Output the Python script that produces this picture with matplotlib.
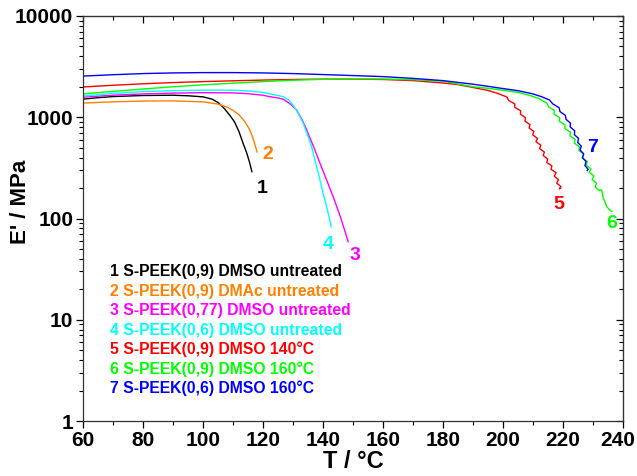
"""Storage modulus E' vs temperature for S-PEEK films (DMA)."""
import matplotlib
matplotlib.use("Agg")
import matplotlib.pyplot as plt
from matplotlib.ticker import FixedLocator, LogLocator, NullFormatter, MultipleLocator
from matplotlib.transforms import ScaledTranslation

plt.rcParams["font.family"] = ["Liberation Sans", "DejaVu Sans"]
plt.rcParams["font.weight"] = "bold"

# --- data (T in degC, E' in MPa) ---
T1 = [60, 65, 70, 80, 90, 95, 100, 103, 105, 107, 109, 110.5, 112, 113.3, 114.5, 115.5, 116.3]
E1 = [1510, 1560, 1600, 1640, 1650, 1630, 1590, 1510, 1400, 1230, 1040, 900, 720, 560, 450, 360, 290]

T2 = [60, 70, 80, 90, 100, 105, 108, 110, 112, 114, 115.5, 116.5, 117.3, 118]
E2 = [1380, 1420, 1445, 1450, 1420, 1350, 1260, 1170, 1060, 900, 760, 640, 540, 454]

T3 = [60, 70, 80, 90, 100, 110, 115, 120, 122.3, 125, 126.8, 129, 131.2, 133, 134.6,
      137, 139, 141.2, 143.4, 146, 148.4]
E3 = [1580, 1650, 1700, 1730, 1750, 1740, 1710, 1650, 1595, 1550, 1503, 1360, 1180, 950, 748,
      500, 351, 240, 164, 100, 59]

T4 = [60, 70, 80, 90, 100, 110, 115, 120, 122.3, 125, 126.8, 128.5, 130, 131.7, 133.4,
      135, 136.2, 137.6, 139, 140.2, 141.2, 142, 142.7]
E4 = [1620, 1720, 1790, 1830, 1850, 1850, 1820, 1760, 1700, 1640, 1595, 1480, 1321, 1100, 872,
      650, 512, 350, 240, 170, 131, 105, 83]

T5 = [60, 70, 80, 90, 100, 110, 120, 130, 140, 150, 160, 170, 180, 185, 190, 195, 198,
      201.3, 201.9, 203.9, 203.9, 205.9, 205.8, 207.5, 207.3, 209.0, 208.7, 210.3, 209.9,
      211.5, 211.0, 212.6, 212.2, 213.8, 213.4, 214.9, 214.6, 216.3, 216.0, 217.7, 217.1,
      218.5, 217.9, 219.3, 218.8, 219.2]
E5 = [1990, 2070, 2140, 2200, 2250, 2290, 2330, 2360, 2380, 2380, 2360, 2300, 2180, 2100, 1970, 1840, 1730,
      1585, 1466, 1355, 1253, 1159, 1072, 991, 916, 847, 783, 724, 670,
      619, 573, 530, 490, 453, 419, 387, 358, 331, 306, 283, 262,
      242, 224, 207, 196, 200]

T6 = [60, 70, 80, 90, 100, 110, 120, 130, 140, 150, 160, 170, 180, 190, 195, 200, 205, 209, 212,
      214.6, 215.2, 217.1, 217.0, 218.9, 218.8, 220.7, 220.6, 222.5, 222.3, 224.1, 223.8,
      225.5, 225.3, 226.9, 226.4, 228.1, 227.7, 229.3, 228.8, 230.3, 229.7, 231.2, 230.7,
      232.1, 232.9, 233.4, 234.6, 235.5, 236.3]
E6 = [1700, 1800, 1900, 2000, 2090, 2170, 2250, 2320, 2370, 2390, 2390, 2350, 2270, 2000, 1930, 1850, 1760, 1640, 1530,
      1380, 1271, 1169, 1076, 991, 912, 839, 773, 711, 655, 603, 555,
      511, 470, 433, 398, 366, 337, 310, 286, 263, 242, 223, 205,
      189, 192, 160, 131, 122, 117]

T7 = [60, 70, 80, 90, 100, 110, 120, 130, 140, 150, 160, 170, 180, 190, 195, 200, 205, 210, 213,
      215.5, 216.6, 218.7, 219.0, 220.8, 221.0, 222.5, 222.4, 223.9, 223.8, 225.2, 224.9,
      226.1, 225.7, 226.9, 226.5, 227.7, 227.3, 228.4, 228.1]
E7 = [2550, 2630, 2700, 2740, 2760, 2760, 2740, 2700, 2640, 2580, 2520, 2420, 2300, 2120, 2020, 1920, 1830, 1700, 1590,
      1479, 1355, 1242, 1138, 1042, 955, 875, 802, 735, 673, 617, 565,
      518, 474, 435, 398, 365, 334, 306, 298]

SERIES = [(T1, E1), (T2, E2), (T3, E3), (T4, E4), (T5, E5), (T6, E6), (T7, E7)]
LEGEND = [
    "1 S-PEEK(0,9) DMSO untreated",
    "2 S-PEEK(0,9) DMAc untreated",
    "3 S-PEEK(0,77) DMSO untreated",
    "4 S-PEEK(0,6) DMSO untreated",
    "5 S-PEEK(0,9) DMSO 140\u00b0C",
    "6 S-PEEK(0,9) DMSO 160\u00b0C",
    "7 S-PEEK(0,6) DMSO 160\u00b0C",
]
# curve number tags placed near curve ends
TAG_T = [119.7, 121.7, 150.7, 141.7, 218.7, 236.3, 230.0]
TAG_E = [200, 433, 43.6, 56, 136, 90, 508]

COLORS = ["#000000", "#ff8000", "#ff00ff", "#00ffff", "#ff0000", "#00ff00", "#0000ff"]
XTICKS = [60, 80, 100, 120, 140, 160, 180, 200, 220, 240]
YTICKS = [1, 10, 100, 1000, 10000]


def main():
    fig = plt.figure(figsize=(6.37, 4.76), dpi=100)
    ax = fig.add_axes([0.1303, 0.1155, 0.8477, 0.8509])

    for i, (t, e) in enumerate(SERIES):
        ax.plot(t, e, color=COLORS[i], linewidth=1.0)
        ax.text(TAG_T[i], TAG_E[i], str(i + 1), color=COLORS[i], fontsize=14,
                fontweight="bold", ha="center", va="center")

    for i, label in enumerate(LEGEND):
        ax.text(0.05, 0.368 - i * 0.0478, label, transform=ax.transAxes,
                color=COLORS[i], fontsize=11.3, fontweight="bold", va="center", ha="left")

    ax.set_yscale("log")
    ax.set_xlim(60, 240)
    ax.set_ylim(1, 10000)

    ax.xaxis.set_major_locator(FixedLocator(XTICKS))
    ax.xaxis.set_minor_locator(MultipleLocator(10))
    ax.set_xticklabels([str(v) for v in XTICKS])
    ax.yaxis.set_major_locator(FixedLocator(YTICKS))
    ax.yaxis.set_minor_locator(LogLocator(base=10, subs=range(2, 10)))
    ax.yaxis.set_minor_formatter(NullFormatter())
    ax.set_yticklabels([str(v) for v in YTICKS])

    ax.tick_params(axis="both", which="major", labelsize=15, length=5, width=0.9, pad=2)
    ax.tick_params(axis="both", which="minor", length=3, width=0.8)
    ax.tick_params(axis="both", which="both", direction="out")
    for lab in ax.get_xticklabels() + ax.get_yticklabels():
        lab.set_fontweight("bold")
    # nudge the last x label so it stays inside the canvas
    last = ax.get_xticklabels()[-1]
    last.set_transform(last.get_transform() + ScaledTranslation(-4 / 72, 0, fig.dpi_scale_trans))

    # mirrored inward ticks on the top and right
    sec_x = ax.secondary_xaxis("top")
    sec_x.xaxis.set_major_locator(MultipleLocator(20))
    sec_x.xaxis.set_minor_locator(MultipleLocator(10))
    sec_x.tick_params(which="major", direction="in", length=5, width=0.9, labeltop=False)
    sec_x.tick_params(which="minor", direction="in", length=3, width=0.8)
    sec_y = ax.secondary_yaxis("right")
    sec_y.yaxis.set_major_locator(FixedLocator(YTICKS))
    sec_y.yaxis.set_minor_locator(LogLocator(base=10, subs=range(2, 10)))
    sec_y.yaxis.set_minor_formatter(NullFormatter())
    sec_y.tick_params(which="major", direction="in", length=5, width=0.9, labelright=False)
    sec_y.tick_params(which="minor", direction="in", length=3, width=0.8)

    for sp in ax.spines.values():
        sp.set_linewidth(0.9)
        sp.set_color("#333333")

    ax.set_xlabel("T / \u00b0C", fontsize=17, fontweight="bold", labelpad=0)
    ax.set_ylabel("E' / MPa", fontsize=16, fontweight="bold")
    ax.yaxis.set_label_coords(-0.096, 0.54)

    fig.savefig("out.png", dpi=100)


if __name__ == "__main__":
    main()
